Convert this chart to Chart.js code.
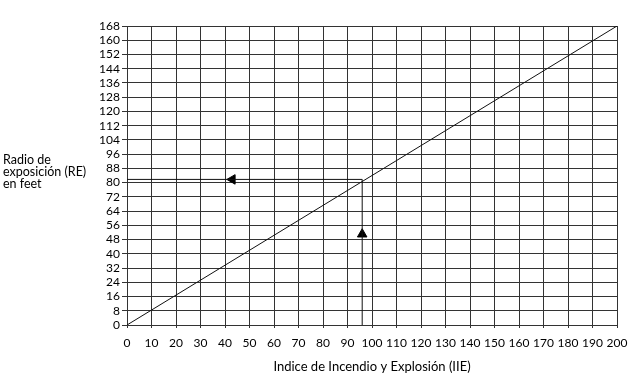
<!DOCTYPE html>
<html>
<head>
<meta charset="utf-8">
<script src="https://cdn.jsdelivr.net/npm/chart.js@4.4.1/dist/chart.umd.min.js"></script>
<style>
  html, body { margin: 0; padding: 0; background: #fff; }
  #wrap { position: relative; width: 629px; height: 385px; }
</style>
</head>
<body>
<div id="wrap"><canvas id="grafico" width="629" height="385"></canvas></div>
<script>
// Datos
const iieExtremos = [0, 200];        // eje X: Indice de Incendio y Explosión
const reExtremos = [0, 168];         // eje Y: Radio de exposición
const guiaX = [96, 96, 0];           // recorrido de lectura
const guiaY = [0, 81.8, 81.8];
const flechaIzq = { x: 43, y: 81.8 };
const flechaArriba = { x: 96, y: 51 };
const ticksX = [0, 10, 20, 30, 40, 50, 60, 70, 80, 90, 100, 110, 120, 130, 140, 150, 160, 170, 180, 190, 200];
const ticksY = [0, 8, 16, 24, 32, 40, 48, 56, 64, 72, 80, 88, 96, 104, 112, 120, 128, 136, 144, 152, 160, 168];

const fuente = "Lato, 'Open Sans', sans-serif";

// Texto del eje Y, horizontal a la izquierda
const tituloY = {
  id: "tituloY",
  afterDraw(chart) {
    const c = chart.ctx;
    c.save();
    c.fillStyle = "#000";
    c.font = "12.5px " + fuente;
    c.textAlign = "left";
    c.textBaseline = "middle";
    ["Radio de", "exposición (RE)", "en feet"].forEach((t, i) => c.fillText(t, 3, 160 + i * 12));
    c.restore();
  }
};

const ctx = document.getElementById("grafico").getContext("2d");
new Chart(ctx, {
  type: "scatter",
  data: {
    datasets: [
      {
        data: iieExtremos.map((x, i) => ({ x: x, y: reExtremos[i] })),
        showLine: true,
        borderColor: "#111",
        borderWidth: 1,
        pointRadius: 0,
      },
      {
        data: guiaX.map((x, i) => ({ x: x, y: guiaY[i] })),
        showLine: true,
        borderColor: "#111",
        borderWidth: 1,
        pointRadius: 0,
      },
      {
        data: [flechaIzq],
        pointStyle: "triangle",
        rotation: -90,
        pointRadius: 5.5,
        backgroundColor: "#000",
        borderColor: "#000",
      },
      {
        data: [flechaArriba],
        pointStyle: "triangle",
        rotation: 0,
        pointRadius: 5.5,
        backgroundColor: "#000",
        borderColor: "#000",
      },
    ],
  },
  options: {
    responsive: false,
    animation: false,
    layout: { padding: { left: 0, right: 12, top: 26, bottom: 0 } },
    plugins: { legend: { display: false }, tooltip: { enabled: false } },
    scales: {
      x: {
        type: "linear",
        min: 0,
        max: 200,
        afterBuildTicks: (s) => { s.ticks = ticksX.map((v) => ({ value: v })); },
        afterFit: (s) => { s.height = 60; s.paddingLeft = 0; s.paddingRight = 0; },
        grid: { color: "#333", lineWidth: 1, tickLength: 3 },
        border: { color: "#333" },
        ticks: { color: "#000", font: { family: fuente, size: 12 }, padding: 8, maxRotation: 0, autoSkip: false },
        title: {
          display: true,
          text: "Indice de Incendio y Explosión (IIE)",
          color: "#000",
          font: { family: fuente, size: 13 },
          padding: { top: 0, bottom: 10 },
        },
      },
      y: {
        type: "linear",
        min: 0,
        max: 168,
        afterBuildTicks: (s) => { s.ticks = ticksY.map((v) => ({ value: v })); },
        afterFit: (s) => { s.width = 127; s.paddingTop = 0; s.paddingBottom = 0; },
        grid: { color: "#333", lineWidth: 1, tickLength: 5 },
        border: { color: "#333" },
        ticks: { color: "#000", font: { family: fuente, size: 12 }, padding: 2, autoSkip: false },
      },
    },
  },
  plugins: [tituloY],
});
</script>
</body>
</html>
